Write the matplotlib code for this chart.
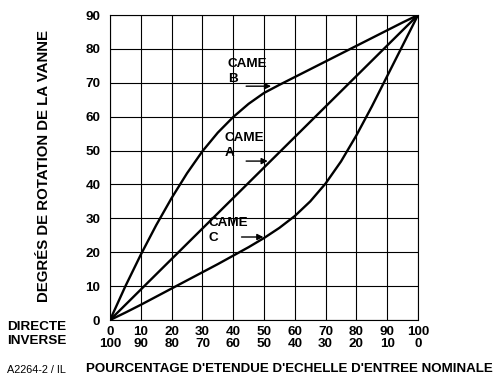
import numpy as np
import matplotlib
matplotlib.use('Agg')
import matplotlib.pyplot as plt

plt.rcParams['font.family'] = ['Liberation Sans', 'DejaVu Sans']

# course d'entree (%) et rotation de la vanne (degres)
pct = [0, 5, 10, 15, 20, 25, 30, 35, 40, 45, 50,
       55, 60, 65, 70, 75, 80, 85, 90, 95, 100]
came_a = [0, 4.5, 9, 13.5, 18, 22.5, 27, 31.5, 36, 40.5, 45,
          49.5, 54, 58.5, 63, 67.5, 72, 76.5, 81, 85.5, 90]
came_b = [0, 10, 19.3, 28, 36, 43.3, 49.8, 55.3, 59.9, 63.8, 67,
          69.4, 71.7, 74, 76.3, 78.6, 80.9, 83.2, 85.5, 87.8, 90]
came_c = [0, 2.2, 4.5, 6.9, 9.3, 11.7, 14.1, 16.5, 19, 21.5, 24.2,
          27.2, 30.7, 35, 40.3, 46.8, 54.5, 63, 72, 81, 90]

directe = [0, 10, 20, 30, 40, 50, 60, 70, 80, 90, 100]
inverse = [100, 90, 80, 70, 60, 50, 40, 30, 20, 10, 0]
yticks = [0, 10, 20, 30, 40, 50, 60, 70, 80, 90]

# etiquettes des cames: (texte, x texte, y texte, fleche depart, fleche arrivee)
cames = [
    ('CAME\nB', 38.2, 73.3, (44.2, 69.0), (52.3, 69.0)),
    ('CAME\nA', 37.3, 51.5, (44.2, 46.9), (51.2, 46.9)),
    ('CAME\nC', 32.0, 26.4, (42.7, 24.5), (49.8, 24.5)),
]

fig = plt.figure(figsize=(4.94, 3.81), dpi=100)
ax = fig.add_axes([0.2227, 0.160, 0.6235, 0.8006])

ax.set_xlim(0, 100)
ax.set_ylim(0, 90)
ax.set_xticks(directe)
ax.set_yticks(yticks)
ax.grid(True, color='black', linewidth=0.8)
for s in ax.spines.values():
    s.set_linewidth(0.8)
ax.tick_params(length=0)
ax.set_yticklabels([str(v) for v in yticks], fontweight='bold', fontsize=9.7)
ax.set_xticklabels([f'{d}\n{i}' for d, i in zip(directe, inverse)],
                   fontsize=9.7, fontweight='bold', linespacing=1.02)
ax.tick_params(axis='x', pad=4)
ax.tick_params(axis='y', pad=7)

for serie in (came_a, came_b, came_c):
    ax.plot(pct, serie, color='black', linewidth=1.7, solid_capstyle='round',
            solid_joinstyle='round')

for txt, tx, ty, a0, a1 in cames:
    ax.text(tx, ty, txt, fontsize=9.7, fontweight='bold', va='center',
            ha='left', linespacing=1.3)
    ax.annotate('', xy=a1, xytext=a0,
                arrowprops=dict(arrowstyle='-|>', color='black', lw=1.0,
                                mutation_scale=9, shrinkA=0, shrinkB=0))

fig.text(0.089, 0.564, 'DEGRÉS DE ROTATION DE LA VANNE', rotation=90,
         ha='center', va='center', fontsize=10.8, fontweight='bold')
fig.text(0.074, 0.143, 'DIRECTE', ha='center', va='center', fontsize=9.7,
         fontweight='bold')
fig.text(0.074, 0.104, 'INVERSE', ha='center', va='center', fontsize=9.7,
         fontweight='bold')
fig.text(0.014, 0.016, 'A2264-2 / IL', ha='left', va='bottom', fontsize=7.8)
fig.text(0.998, 0.016, "POURCENTAGE D'ETENDUE D'ECHELLE D'ENTREE NOMINALE",
         ha='right', va='bottom', fontsize=9.6, fontweight='bold')

fig.savefig('out.png', dpi=100)
